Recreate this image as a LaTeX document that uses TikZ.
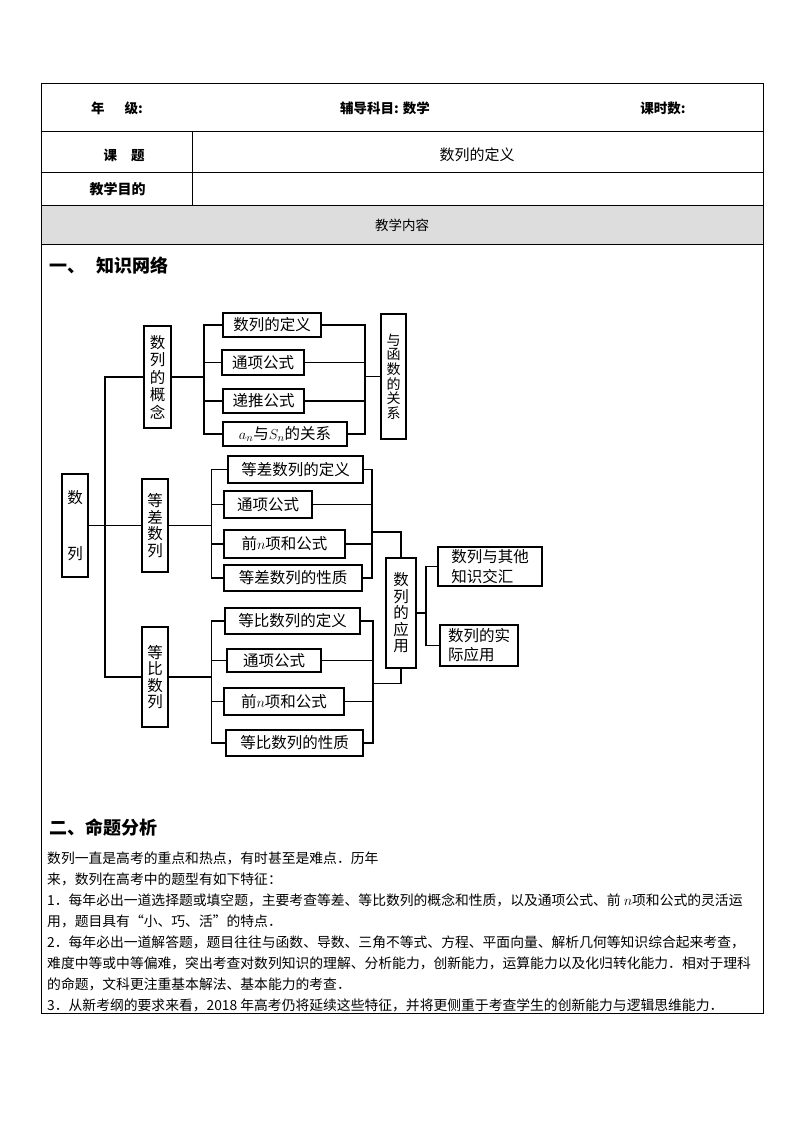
\documentclass[tikz,border=0pt]{standalone}
\usepackage{fontspec}
\setmainfont{Noto Sans CJK SC}
\newcommand\myfs[2]{\fontsize{#1}{#2}\selectfont}
\definecolor{hdrgray}{RGB}{221,221,221}
\begin{document}
\begin{tikzpicture}[x=1pt,y=-1pt,
  bx/.style={draw,line width=1.1pt,inner sep=0pt,font=\myfs{15.5}{18}},
  vbx/.style={draw,line width=1.1pt,inner sep=0pt,align=center},
  tbl/.style={line width=0.9pt},
  cn/.style={line width=1.1pt},
  ttext/.style={inner sep=0pt,font=\myfs{13.5}{16}},
  body/.style={inner sep=0pt,anchor=west,font=\myfs{13.8}{16}}]
\useasboundingbox (0,0) rectangle (794,1123);
% ---------- table ----------
\fill[hdrgray] (41,205) rectangle (763,244);
\draw[tbl] (41,83.5) rectangle (763,1013);
\draw[tbl] (41,131.5) -- (763,131.5);
\draw[tbl] (41,172) -- (763,172);
\draw[tbl] (41,205) -- (763,205);
\draw[tbl] (41,244) -- (763,244);
\draw[tbl] (192,131.5) -- (192,205);
\node[ttext,anchor=west,font=\bfseries\myfs{13.5}{16}] (nj) at (91,108) {年\hspace{20pt}级:};
\node[ttext,font=\bfseries\myfs{13.5}{16}] (km) at (385,108) {辅导科目: 数学};
\node[ttext,font=\bfseries\myfs{13.5}{16}] (ks) at (663,108) {课时数:};
\node[ttext,font=\bfseries\myfs{13.5}{16}] (kt) at (124,155) {课\hspace{14pt}题};
\node[ttext,font=\myfs{15}{16}] (dy) at (477,155) {数列的定义};
\node[ttext,font=\bfseries\myfs{14}{16}] (md) at (117.5,189) {教学目的};
\node[ttext] (nr) at (402,225) {教学内容};
\node[inner sep=0pt,anchor=west,font=\bfseries\myfs{18}{20}] (s1) at (49,266) {一、\hspace{11pt}知识网络};
\node[inner sep=0pt,anchor=west,font=\bfseries\myfs{18}{20}] (s2) at (49,828) {二、命题分析};
% ---------- diagram boxes ----------
\node[vbx,font=\myfs{15.5}{56},minimum width=26pt,minimum height=103pt] (root) at (75,525.5) {数\\列};
\node[vbx,font=\myfs{15.5}{17.5},minimum width=27pt,minimum height=102pt] (gn) at (157.5,377) {数\\列\\的\\概\\念};
\node[vbx,font=\myfs{15.5}{16.5},minimum width=26pt,minimum height=93pt] (dc) at (155,525.5) {等\\差\\数\\列};
\node[vbx,font=\myfs{15.5}{16.5},minimum width=26pt,minimum height=100pt] (db) at (155,677) {等\\比\\数\\列};
\node[vbx,font=\myfs{14}{14.6},minimum width=25pt,minimum height=125pt] (hs) at (393.5,376.5) {与\\函\\数\\的\\关\\系};
\node[vbx,font=\myfs{15.5}{16.5},minimum width=30pt,minimum height=110pt] (yy) at (401,613) {数\\列\\的\\应\\用};
\node[bx,minimum width=98pt,minimum height=24pt] (a1) at (272,325) {数列的定义};
\node[bx,minimum width=82pt,minimum height=25pt] (a2) at (263,362.5) {通项公式};
\node[bx,minimum width=81pt,minimum height=24pt] (a3) at (263.5,401) {递推公式};
\node[bx,minimum width=124pt,minimum height=24pt] (a4) at (285,434) {$a_n$与$S_n$的关系};
\node[bx,minimum width=135pt,minimum height=27pt] (b1) at (295.5,469.5) {等差数列的定义};
\node[bx,minimum width=88pt,minimum height=27pt] (b2) at (268,504.5) {通项公式};
\node[bx,minimum width=121pt,minimum height=28pt] (b3) at (284.5,544) {前$n$项和公式};
\node[bx,minimum width=138pt,minimum height=26pt] (b4) at (293,578) {等差数列的性质};
\node[bx,minimum width=135pt,minimum height=26pt] (c1) at (292.5,621) {等比数列的定义};
\node[bx,minimum width=94pt,minimum height=23pt] (c2) at (274,660.5) {通项公式};
\node[bx,minimum width=120pt,minimum height=27pt] (c3) at (284,701.5) {前$n$项和公式};
\node[bx,minimum width=137pt,minimum height=26pt] (c4) at (294.5,743) {等比数列的性质};
\node[bx,align=left,font=\myfs{15.5}{20},minimum width=104pt,minimum height=39pt] (d1) at (490,566.5) {数列与其他\\知识交汇};
\node[bx,align=left,font=\myfs{15.5}{19},minimum width=78pt,minimum height=41pt] (d2) at (479,645.5) {数列的实\\际应用};
% ---------- connectors ----------
\coordinate (ga) at (204,377);
\coordinate (gb) at (365,376.5);
\coordinate (ha) at (211.5,525.5);
\coordinate (hb) at (372,532);
\coordinate (ka) at (211.5,677);
\coordinate (kb) at (373,683.5);
\coordinate (fa) at (426,613);
\draw[cn] (root.east) -- (dc.west);
\draw[cn] (gn.west) -- ++(-38.5,0) |- (db.west);
% concept group
\draw[cn] (gn.east) -- (ga);
\draw[cn] (a1.west) -| (ga) |- (a4.west);
\draw[cn] (a2.west) -- (a2.west -| ga);
\draw[cn] (a3.west) -- (a3.west -| ga);
\draw[cn] (a1.east) -| (gb) |- (a4.east);
\draw[cn] (a2.east) -- (a2.east -| gb);
\draw[cn] (a3.east) -- (a3.east -| gb);
\draw[cn] (gb) -- (hs.west);
% arithmetic group
\draw[cn] (dc.east) -- (ha);
\draw[cn] (b1.west) -| (ha) |- (b4.west);
\draw[cn] (b2.west) -- (b2.west -| ha);
\draw[cn] (b3.west) -- (b3.west -| ha);
\draw[cn] (b1.east) -| (hb) |- (b4.east);
\draw[cn] (b2.east) -- (b2.east -| hb);
\draw[cn] (b3.east) -- (b3.east -| hb);
\draw[cn] (hb) -| (yy.north);
% geometric group
\draw[cn] (db.east) -- (ka);
\draw[cn] (c1.west) -| (ka) |- (c4.west);
\draw[cn] (c2.west) -- (c2.west -| ka);
\draw[cn] (c3.west) -- (c3.west -| ka);
\draw[cn] (c1.east) -| (kb) |- (c4.east);
\draw[cn] (c2.east) -- (c2.east -| kb);
\draw[cn] (c3.east) -- (c3.east -| kb);
\draw[cn] (kb) -| (yy.south);
% application
\draw[cn] (yy.east) -- (fa);
\draw[cn] (d1.west) -| (fa) |- (d2.west);
% ---------- body text ----------
\node[body] (l1) at (47,858) {数列一直是高考的重点和热点，有时甚至是难点．历年};
\node[body] (l2) at (47,879) {来，数列在高考中的题型有如下特征：};
\node[body] (l3) at (47,900) {1．每年必出一道选择题或填空题，主要考查等差、等比数列的概念和性质，以及通项公式、前 $n$项和公式的灵活运};
\node[body] (l4) at (47,921) {用，题目具有“小、巧、活”的特点．};
\node[body] (l5) at (47,942) {2．每年必出一道解答题，题目往往与函数、导数、三角不等式、方程、平面向量、解析几何等知识综合起来考查，};
\node[body] (l6) at (47,963) {难度中等或中等偏难，突出考查对数列知识的理解、分析能力，创新能力，运算能力以及化归转化能力．相对于理科};
\node[body] (l7) at (47,984) {的命题，文科更注重基本解法、基本能力的考查．};
\node[body] (l8) at (47,1005) {3．从新考纲的要求来看，2018 年高考仍将延续这些特征，并将更侧重于考查学生的创新能力与逻辑思维能力．};
\end{tikzpicture}
\end{document}
